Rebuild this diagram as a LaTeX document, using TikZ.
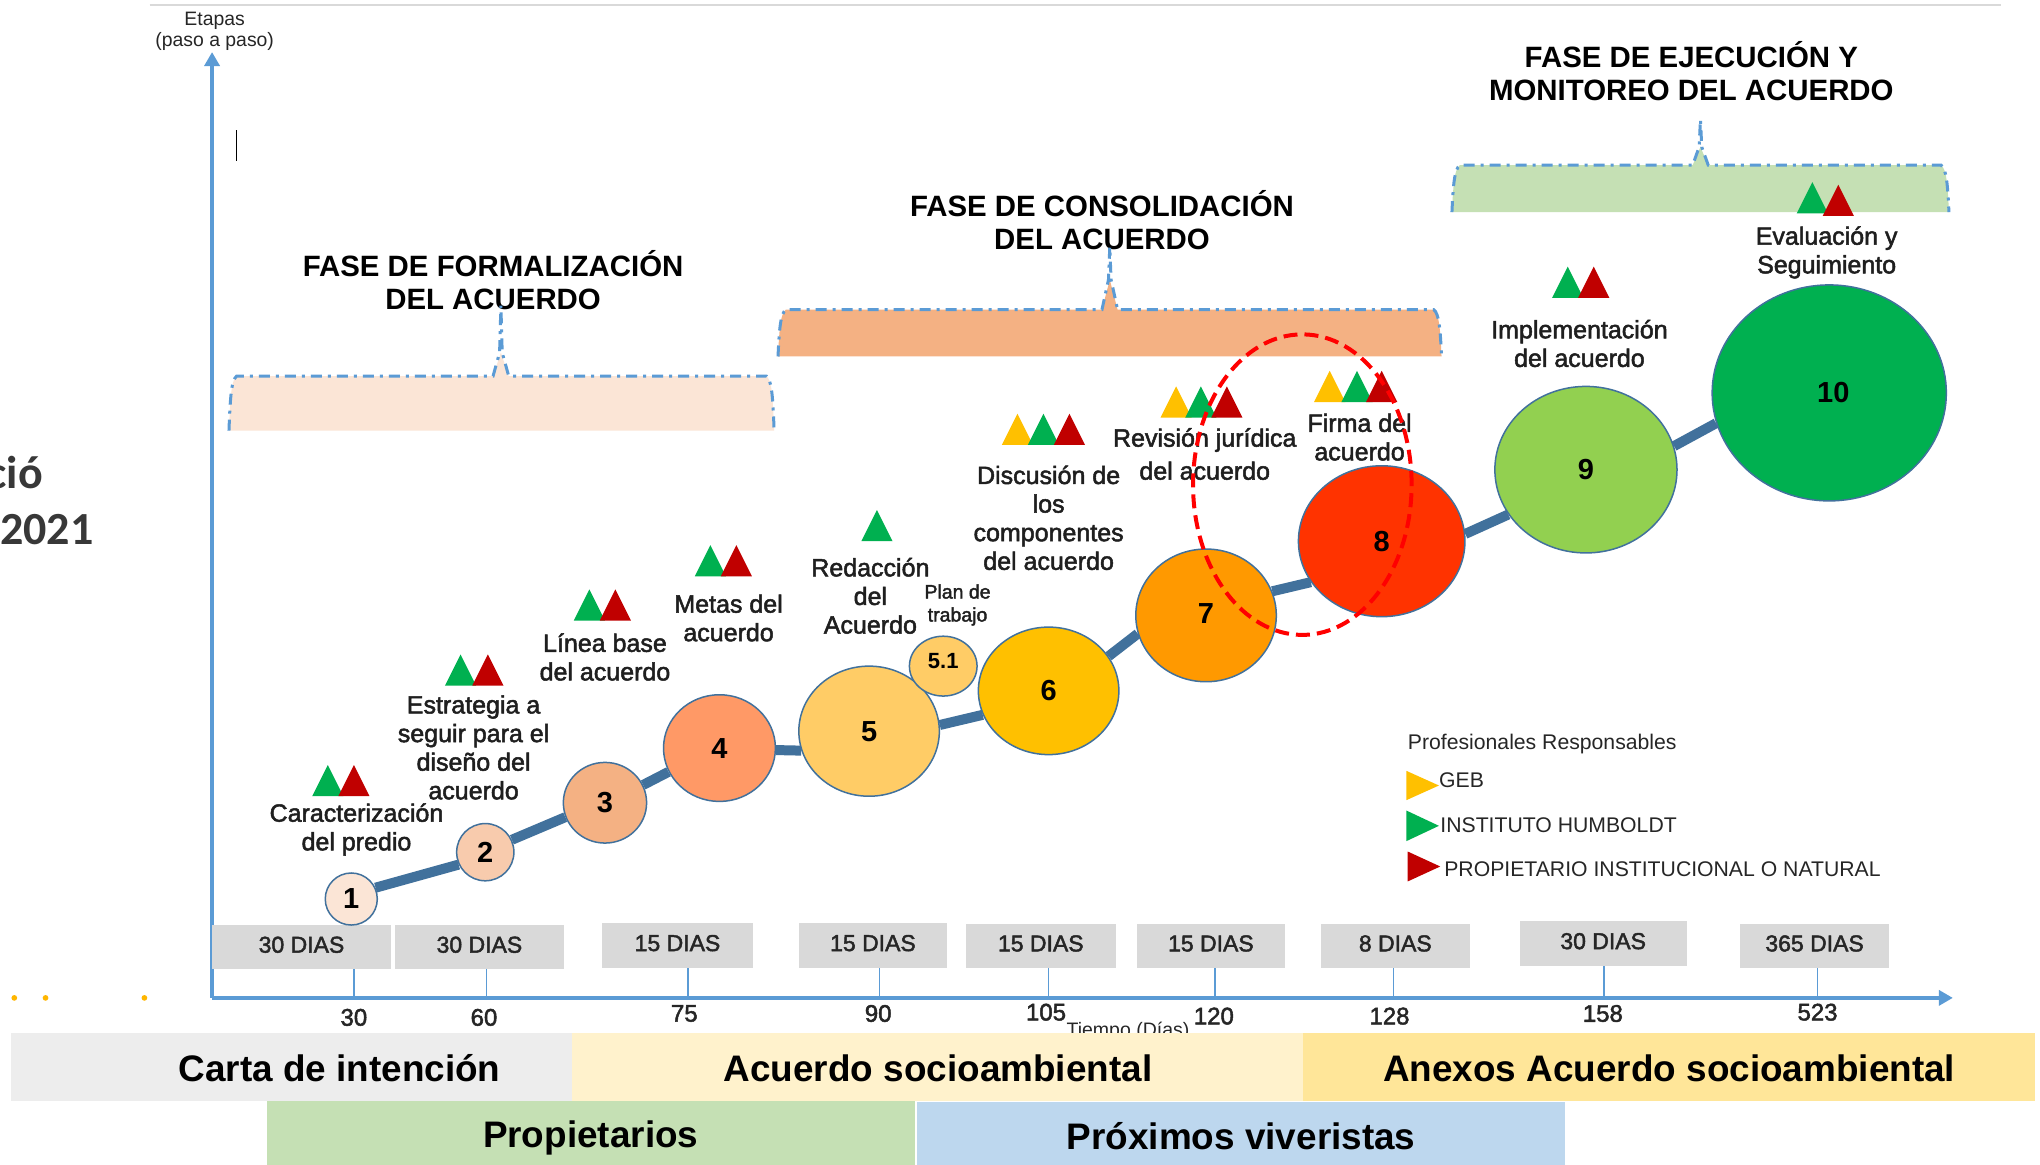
\documentclass[tikz,border=0pt]{standalone}
\usepackage{fontspec}
\setmainfont{Liberation Sans}
\newfontfamily\semifont[FakeBold=2]{Liberation Sans}
\newfontfamily\calfont{Carlito}
\usetikzlibrary{shapes.geometric,arrows.meta,backgrounds}
\definecolor{axisblue}{HTML}{5B9BD5}
\definecolor{spineblue}{HTML}{41719C}
\definecolor{edgeblue}{HTML}{41719C}
\definecolor{barGrey}{HTML}{D9D9D9}
\definecolor{triY}{HTML}{FFC000}
\definecolor{triG}{HTML}{00B050}
\definecolor{triR}{HTML}{C00000}
\definecolor{bandA}{HTML}{EDEDED}\definecolor{bandB}{HTML}{FFF2CC}\definecolor{bandC}{HTML}{FFE699}
\definecolor{bandD}{HTML}{C5E0B4}\definecolor{bandE}{HTML}{BDD7EE}
\definecolor{bandF}{HTML}{FBE5D6}\definecolor{bandG}{HTML}{F4B183}\definecolor{bandH}{HTML}{C5E0B4}
\definecolor{c1}{HTML}{FBE5D6}\definecolor{c2}{HTML}{F8CBAD}\definecolor{c3}{HTML}{F4B183}
\definecolor{c4}{HTML}{FF9966}\definecolor{c5}{HTML}{FFCC66}\definecolor{c6}{HTML}{FFC000}
\definecolor{c7}{HTML}{FF9900}\definecolor{c8}{HTML}{FF3300}\definecolor{c9}{HTML}{92D050}\definecolor{c10}{HTML}{00B050}
\newcommand\fsz[2]{\fontsize{#1}{#2}\selectfont}
\newcommand\trg[3]{\fill[#1] ({#2-12},{#3+24}) -- (#2,#3) -- ({#2+12},{#3+24}) -- cycle;}
\newcommand\legtri[4]{\fill[#1] (#2,#3) -- ({#2+25},{(#3+#4)/2}) -- (#2,#4) -- cycle;}
\newcommand\phasepanel[8]{%
  \fill[#8] (#1,#4) .. controls ({#1+1},{#3+14}) and ({#1+2},{#3+3}) .. ({#1+6},#3)
     -- ({#6-6},#3) -- (#6,#7) -- ({#6+6},#3) -- ({#2-6},#3)
     .. controls ({#2-2},{#3+3}) and ({#2-1},{#3+14}) .. (#2,#4) -- cycle;
  \draw[panelline] (#1,#4) .. controls ({#1+1},{#3+14}) and ({#1+2},{#3+3}) .. ({#1+6},#3)
     -- ({#6-6},#3) -- ({#6-1},#7) -- (#6,#5) -- ({#6+1},#7) -- ({#6+6},#3) -- ({#2-6},#3)
     .. controls ({#2-2},{#3+3}) and ({#2-1},{#3+14}) .. (#2,#4);}
\newcommand\dur[6]{\node[durbox,minimum width={(#3-#2)*1.30102pt},minimum height={(#5-#4)*1.30102pt}] (#1) at ({(#2+#3)/2},{(#4+#5)/2}) {#6};}
\newcommand\stgn[8]{\node[stage,fill=#7,minimum width={#5*2.602pt},minimum height={#6*2.602pt},#8] (#1) at (#3,#4) {#2};}
\tikzset{
  panelline/.style={draw=axisblue,line width=3pt,dash pattern=on 11pt off 6pt on 3pt off 6pt},
  axisline/.style={draw=axisblue,line width=3.5pt,-{Triangle[width=15pt,length=14pt]}},
  tickline/.style={draw=axisblue,line width=1.5pt},
  spine/.style={draw=spineblue,line width=10pt},
  stage/.style={ellipse,draw=edgeblue,line width=1.5pt,inner sep=0pt,text=black,font=\bfseries\fsz{29}{32}},
  lab/.style={align=center,inner sep=0pt,text=black!88,font=\semifont\fsz{25}{28.6}},
  phase/.style={align=center,inner sep=0pt,text=black,font=\bfseries\fsz{29.4}{33}},
  durbox/.style={fill=barGrey,inner sep=0pt,text=black!85,text depth=5pt,font=\semifont\fsz{23}{26}},
  ticklab/.style={inner sep=0pt,text=black!85,font=\semifont\fsz{24}{26}},
  band/.style={inner sep=0pt,text=black,font=\bfseries\fsz{36.9}{40}},
  leg/.style={anchor=west,inner sep=0pt,text=black!85,font=\fsz{21.2}{24}},
}
\begin{document}
\begin{tikzpicture}[x=1.30102pt,y=-1.30102pt]
\useasboundingbox (0,0) rectangle (1568,895.44);
\begin{pgfonlayer}{background}
\fill[white] (0,0) rectangle (1568,895.44);
\end{pgfonlayer}
% top rule and cursor
\coordinate (ruleL) at (115,4); \coordinate (ruleR) at (1538,4);
\draw[barGrey,line width=2pt] (ruleL) -- (ruleR);
\coordinate (curT) at (182,100); \coordinate (curB) at (182,124);
\draw[black,line width=1.2pt] (curT) -- (curB);
% left cut text
\node[anchor=east,inner sep=0pt,text=black!78,font=\calfont\bfseries\fsz{46}{50}] (cio) at (33,363) {ció};
\node[anchor=west,inner sep=0pt,text=black!78,font=\calfont\bfseries\fsz{46}{50}] (yr) at (0,407) {2021};
% orange dots
\foreach \dx in {11,35,111} \fill[triY!85!orange] (\dx,767) circle (2.2);
% axes
\coordinate (orig) at (163,767); \coordinate (yend) at (163,40); \coordinate (xend) at (1501,767);
\draw[axisline] (orig) -- (yend);
\draw[axisline] (orig) -- (xend);
\node[align=center,inner sep=0pt,text=black!85,font=\fsz{19.4}{21}] (etapas) at (165,24) {Etapas\\(paso a paso)};
\node[inner sep=0pt,text=black!85,font=\fsz{19.5}{22}] (tiempo) at (867,793) {Tiempo (Días)};
% duration boxes
\dur{d1}{163}{300.5}{711}{745}{30 DIAS}
\dur{d2}{303.5}{433.5}{711}{745}{30 DIAS}
\dur{d3}{463}{578.5}{709.5}{744}{15 DIAS}
\dur{d4}{614}{728}{709.5}{744}{15 DIAS}
\dur{d5}{742.5}{857.5}{710}{744}{15 DIAS}
\dur{d6}{874}{987.5}{710}{744}{15 DIAS}
\dur{d7}{1015}{1130}{710}{744}{8 DIAS}
\dur{d8}{1168}{1296.5}{708}{742.5}{30 DIAS}
\dur{d9}{1337.5}{1452}{710}{744}{365 DIAS}
% ticks
\foreach \nm/\tx/\bx in {t1/272/d1,t2/374/d2,t3/529/d3,t4/676/d4,t5/806/d5,t6/934/d6,t7/1071/d7,t8/1233/d8,t9/1397/d9}{
  \coordinate (\nm) at (\tx,767);
  \draw[tickline] (\nm) -- (\nm |- \bx.south);
}
\node[ticklab] (v1) at (272,782) {30};
\node[ticklab] (v2) at (372,782) {60};
\node[ticklab] (v3) at (526,779) {75};
\node[ticklab] (v4) at (675,779) {90};
\node[ticklab] (v5) at (804,778) {105};
\node[ticklab] (v6) at (933,781) {120};
\node[ticklab] (v7) at (1068,781) {128};
\node[ticklab] (v8) at (1232,779) {158};
\node[ticklab] (v9) at (1397,778) {523};
% bottom bands
\fill[bandA] (8.5,794) rectangle (439.5,846);
\fill[bandB] (439.5,794) rectangle (1001.5,846);
\fill[bandC] (1001.5,794) rectangle (1564,846);
\fill[bandD] (205,846.5) rectangle (703.5,895.44);
\fill[bandE] (705,846.8) rectangle (1203,895.44);
\node[band] (carta) at (261,821) {Carta de intención};
\node[band] (acuerdo) at (721,821) {Acuerdo socioambiental};
\node[band] (anexos) at (1283,821) {Anexos Acuerdo socioambiental};
\node[band] (prop) at (454,875) {Propietarios};
\node[band] (prox) at (954,873) {Próximos viveristas};
% phase titles
\node[phase] (f1) at (379,215) {FASE DE FORMALIZACIÓN\\DEL ACUERDO};
\node[phase] (f2) at (847,169) {FASE DE CONSOLIDACIÓN\\DEL ACUERDO};
\node[phase] (f3) at (1300,55) {FASE DE EJECUCIÓN Y\\MONITOREO DEL ACUERDO};
% phase panels: l r top bottom tip peak-x fill-up colour
\phasepanel{176}{595}{289}{331}{235}{385}{271}{bandF}
\phasepanel{598}{1108}{238}{274}{190}{853}{215}{bandG}
\phasepanel{1116}{1498}{127}{163}{92}{1307}{113}{bandH}
% stages
\stgn{n1}{1}{270}{691}{20}{20}{c1}{}
\stgn{n2}{2}{373}{655}{22}{22}{c2}{}
\stgn{n3}{3\hspace{10pt}}{465}{617}{32}{31}{c3}{}
\stgn{n4}{4\hspace{10pt}}{553}{575}{43}{41}{c4}{}
\stgn{n5}{5}{668}{562}{54}{50}{c5}{}
\stgn{n6}{6}{806}{531}{54}{49}{c6}{}
\stgn{n7}{7\hspace{5pt}}{927}{473}{54}{51}{c7}{text depth=4pt}
\stgn{n8}{8}{1062}{416}{64}{58}{c8}{}
\stgn{n9}{9}{1219}{361}{70}{64}{c9}{}
\stgn{n10}{\hspace{8pt}10}{1406}{302}{90}{83}{c10}{}
\stgn{n51}{5.1}{725}{512}{26}{23}{c5}{font=\bfseries\fsz{22}{24},text depth=10pt}
\begin{pgfonlayer}{background}
\draw[spine] (n1.25) -- (n2.205);
\draw[spine] (n2.25) -- (n3.200);
\draw[spine] (n3.25) -- (n4.205);
\draw[spine] (n4.358) -- (n5.196);
\draw[spine] (n5.5) -- (n6.200);
\draw[spine] (n6.30) -- (n7.195);
\draw[spine] (n7.20) -- (n8.210);
\draw[spine] (n8.5) -- (n9.210);
\draw[spine] (n9.15) -- (n10.195);
\end{pgfonlayer}
% labels
\node[lab] (l1) at (274,637.5) {Caracterización\\del predio};
\node[lab] (l2) at (364,574.5) {Estrategia a\\seguir para el\\diseño del\\acuerdo};
\node[lab] (l3) at (465,505) {Línea base\\del acuerdo};
\node[lab] (l4) at (560,475) {Metas del\\acuerdo};
\node[lab] (l5) at (669,458) {Redacción\\del\\Acuerdo};
\node[lab,font=\semifont\fsz{19.5}{23}] (l51) at (736,465) {Plan de\\trabajo};
\node[lab] (l6) at (806,398) {Discusión de\\los\\componentes\\del acuerdo};
\node[lab,font=\semifont\fsz{25}{33}] (l7) at (926,349) {Revisión jurídica\\del acuerdo};
\node[lab] (l8) at (1045,336) {Firma del\\acuerdo};
\node[lab] (l9) at (1214,264) {Implementación\\del acuerdo};
\node[lab] (l10) at (1404,194) {Evaluación y\\Seguimiento};
% triangles
\trg{triG}{252}{588}\trg{triR}{272}{588}
\trg{triG}{354}{503}\trg{triR}{375}{503}
\trg{triG}{453}{453}\trg{triR}{473}{453}
\trg{triG}{546}{419}\trg{triR}{566}{419}
\trg{triG}{674}{392}
\trg{triY}{782}{318}\trg{triG}{802}{318}\trg{triR}{822}{318}
\trg{triY}{904}{297}\trg{triG}{923}{297}\trg{triR}{943}{297}
\trg{triY}{1022}{285}\trg{triG}{1043}{285}\trg{triR}{1062}{285}
\trg{triG}{1205}{205}\trg{triR}{1225}{205}
\trg{triG}{1393}{140}\trg{triR}{1413}{142}
% legend
\node[leg] (lg0) at (1082,572) {Profesionales Responsables};
\legtri{triY}{1081}{592.5}{615}
\legtri{triG}{1081}{623}{646.5}
\legtri{triR}{1082}{654.5}{677.5}
\node[leg] (lg1) at (1106,600) {GEB};
\node[leg] (lg2) at (1107,634) {INSTITUTO HUMBOLDT};
\node[leg] (lg3) at (1110,668) {PROPIETARIO INSTITUCIONAL O NATURAL};
% focus ellipse
\node[ellipse,draw=red,line width=4pt,dash pattern=on 14pt off 7pt,inner sep=0pt,minimum width={168*1.30102pt},minimum height={231*1.30102pt}] (focus) at (1001,372.5) {};
\end{tikzpicture}
\end{document}
